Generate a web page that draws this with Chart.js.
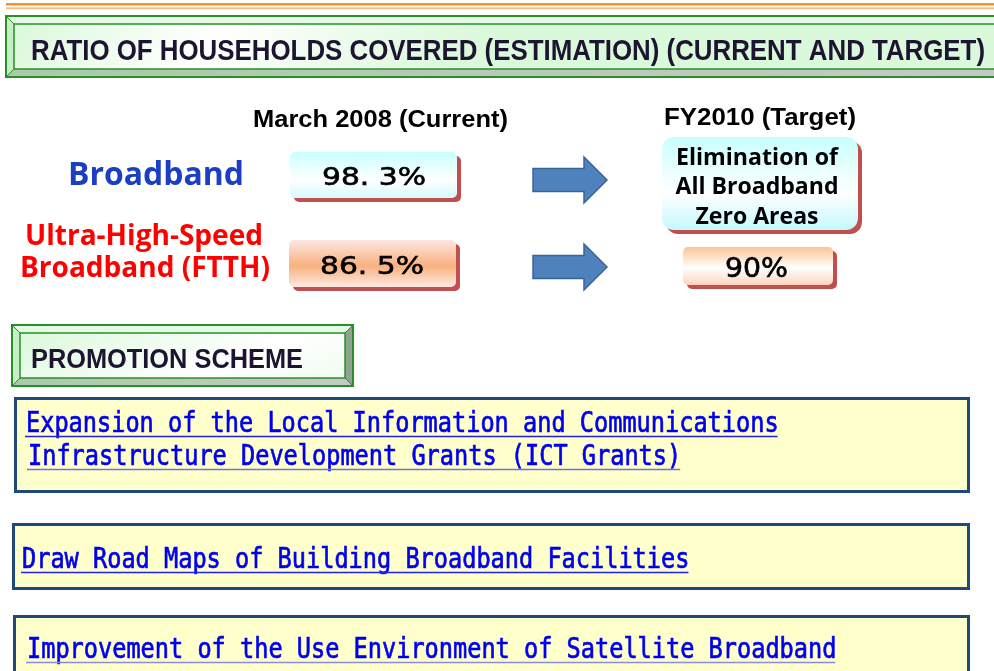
<!DOCTYPE html>
<html>
<head>
<meta charset="utf-8">
<script src="https://cdn.jsdelivr.net/npm/chart.js@4.4.0/dist/chart.umd.min.js"></script>
<style>
html, body { margin: 0; padding: 0; background: #fff; overflow: hidden; }
canvas { display: block; }
</style>
</head>
<body>
<canvas id="BroadbandChart" width="994" height="671"></canvas>
<script>
const title_text = 'RATIO OF HOUSEHOLDS COVERED (ESTIMATION) (CURRENT AND TARGET)';
const scheme_title = 'PROMOTION SCHEME';

const periods = ['March 2008 (Current)', 'FY2010 (Target)'];

const categories = [
    ['Broadband'],
    ['Ultra-High-Speed', 'Broadband (FTTH)']
];
const category_colors = ['#1a3fc4', '#ff0000'];

const current_values = [98.3, 86.5];
const target_values = [null, 90];
const target_notes = [
    ['Elimination of', 'All Broadband', 'Zero Areas'],
    null
];

const schemes = [
    ['Expansion of the Local Information and Communications',
     'Infrastructure Development Grants (ICT Grants)'],
    ['Draw Road Maps of Building Broadband Facilities'],
    ['Improvement of the Use Environment of Satellite Broadband']
];

// helpers
function fitText(ctx, txt, left, base, width, font, color, stroke) {
    ctx.save();
    ctx.font = font;
    const w = ctx.measureText(txt).width;
    ctx.translate(left, base);
    ctx.scale(width / w, 1);
    ctx.fillStyle = color;
    ctx.textAlign = 'left';
    ctx.textBaseline = 'alphabetic';
    ctx.fillText(txt, 0, 0);
    if (stroke) {
        ctx.strokeStyle = color;
        ctx.lineWidth = stroke;
        ctx.strokeText(txt, 0, 0);
    }
    ctx.restore();
}

function monoText(ctx, txt, left, base, color, lineColor) {
    const adv = 14.2;
    ctx.save();
    ctx.font = '28px "DejaVu Sans Mono"';
    const m = ctx.measureText('M').width;
    ctx.translate(left, base);
    ctx.scale(adv / m, 1);
    ctx.fillStyle = color;
    ctx.textBaseline = 'alphabetic';
    ctx.fillText(txt, 0, 0);
    ctx.strokeStyle = color;
    ctx.lineWidth = 0.7;
    ctx.strokeText(txt, 0, 0);
    ctx.restore();
    ctx.save();
    ctx.strokeStyle = lineColor;
    ctx.lineWidth = 1.5;
    ctx.beginPath();
    ctx.moveTo(left - 1, base + 4.5);
    ctx.lineTo(left + txt.length * adv - 1, base + 4.5);
    ctx.stroke();
    ctx.restore();
}

function roundPath(ctx, x, y, w, h, r) {
    ctx.beginPath();
    ctx.moveTo(x + r, y);
    ctx.arcTo(x + w, y, x + w, y + h, r);
    ctx.arcTo(x + w, y + h, x, y + h, r);
    ctx.arcTo(x, y + h, x, y, r);
    ctx.arcTo(x, y, x + w, y, r);
    ctx.closePath();
}

function valueBox(ctx, x, y, w, h, r, stops) {
    ctx.save();
    ctx.fillStyle = '#c0504d';
    roundPath(ctx, x + 4, y + 4, w, h, r);
    ctx.fill();
    const g = ctx.createLinearGradient(0, y, 0, y + h);
    stops.forEach(s => g.addColorStop(s[0], s[1]));
    ctx.fillStyle = g;
    roundPath(ctx, x, y, w, h, r);
    ctx.fill();
    ctx.restore();
}

function poly(ctx, pts, fill) {
    ctx.beginPath();
    ctx.moveTo(pts[0][0], pts[0][1]);
    pts.slice(1).forEach(p => ctx.lineTo(p[0], p[1]));
    ctx.closePath();
    ctx.fillStyle = fill;
    ctx.fill();
}

function bevelBox(ctx, x, y, w, h, b) {
    ctx.save();
    poly(ctx, [[x, y], [x + w, y], [x + w - b, y + b], [x + b, y + b]], '#e4fae4');
    poly(ctx, [[x, y], [x + b, y + b], [x + b, y + h - b], [x, y + h]], '#c6efc6');
    poly(ctx, [[x + w, y], [x + w, y + h], [x + w - b, y + h - b], [x + w - b, y + b]], '#8fa48f');
    const gb = ctx.createLinearGradient(x, 0, x + w, 0);
    gb.addColorStop(0, '#a9cba9');
    gb.addColorStop(1, '#c6c9c6');
    poly(ctx, [[x, y + h], [x + b, y + h - b], [x + w - b, y + h - b], [x + w, y + h]], gb);
    const g = ctx.createLinearGradient(x, y, x + w * 0.3, y + h * 4);
    g.addColorStop(0, '#d8f8d8');
    g.addColorStop(0.45, '#ffffff');
    g.addColorStop(1, '#daf8da');
    ctx.fillStyle = g;
    ctx.fillRect(x + b, y + b, w - 2 * b, h - 2 * b);
    ctx.strokeStyle = '#2a8f2a';
    ctx.lineWidth = 2;
    ctx.strokeRect(x, y, w, h);
    ctx.lineWidth = 1.5;
    ctx.strokeRect(x + b, y + b, w - 2 * b, h - 2 * b);
    ctx.lineWidth = 1;
    ctx.beginPath();
    ctx.moveTo(x, y); ctx.lineTo(x + b, y + b);
    ctx.moveTo(x + w, y); ctx.lineTo(x + w - b, y + b);
    ctx.moveTo(x, y + h); ctx.lineTo(x + b, y + h - b);
    ctx.moveTo(x + w, y + h); ctx.lineTo(x + w - b, y + h - b);
    ctx.stroke();
    ctx.restore();
}

function arrow(ctx, x, yc) {
    const pts = [[x, yc - 11.5], [x + 51, yc - 11.5], [x + 51, yc - 23], [x + 74, yc],
                 [x + 51, yc + 23], [x + 51, yc + 11.5], [x, yc + 11.5]];
    ctx.save();
    poly(ctx, pts, '#4f81bd');
    ctx.strokeStyle = '#3a6496';
    ctx.lineWidth = 1.5;
    ctx.stroke();
    ctx.restore();
}

function yellowBox(ctx, x, y, w, h) {
    ctx.save();
    ctx.fillStyle = '#ffffcc';
    ctx.fillRect(x, y, w, h);
    ctx.strokeStyle = '#1f497d';
    ctx.lineWidth = 3;
    ctx.strokeRect(x + 1.5, y + 1.5, w - 3, h - 3);
    ctx.restore();
}

function fmt(v) {
    return Number.isInteger(v) ? v + '%' : v.toFixed(1).replace('.', '. ') + '%';
}

const infographic = {
    id: 'infographic',
    beforeDraw(chart) {
        const ctx = chart.ctx;
        ctx.save();
        ctx.fillStyle = '#ffffff';
        ctx.fillRect(0, 0, chart.width, chart.height);
        ctx.restore();
    },
    afterDraw(chart) {
        const ctx = chart.ctx;
        const bold = s => 'bold ' + s + 'px "Liberation Sans"';
        const sans = s => 'bold ' + s + 'px "Open Sans"';
        const digits = s => s + 'px "DejaVu Sans"';

        // top orange rule
        ctx.fillStyle = '#f7941d';
        ctx.fillRect(6, 3, 988, 2.5);
        ctx.fillStyle = '#fbc27a';
        ctx.fillRect(6, 7.3, 988, 2);

        // title bar
        bevelBox(ctx, 6, 16, 1000, 61, 8);
        fitText(ctx, title_text, 31, 60, 954, bold(30), '#1c1430');

        // period headers
        fitText(ctx, periods[0], 253, 127, 255, bold(23), '#000000');
        fitText(ctx, periods[1], 664, 125, 192, bold(23), '#000000');

        // category labels
        fitText(ctx, categories[0][0], 68, 185, 176, sans(32), category_colors[0]);
        fitText(ctx, categories[1][0], 25, 245, 238, sans(28), category_colors[1]);
        fitText(ctx, categories[1][1], 20, 277, 250, sans(28), category_colors[1]);

        // current values
        valueBox(ctx, 290, 152, 167, 46, 5, [[0, '#c8ffff'], [0.6, '#ffffff'], [1, '#d4fbff']]);
        fitText(ctx, fmt(current_values[0]), 322, 185, 104, digits(24), '#000000', 0.6);
        valueBox(ctx, 289, 240, 167, 47, 5, [[0, '#fde6e4'], [0.55, '#f8b17e'], [1, '#fde9e2']]);
        fitText(ctx, fmt(current_values[1]), 320, 274, 104, digits(24), '#000000', 0.6);

        // arrows
        arrow(ctx, 533, 180);
        arrow(ctx, 533, 267);

        // targets
        valueBox(ctx, 662, 137, 196, 93, 12, [[0, '#c8ffff'], [0.6, '#ffffff'], [1, '#c4f8ff']]);
        const notes = target_notes[0];
        const noteBase = [165, 194, 224];
        const noteWidth = [162, 163, 123];
        notes.forEach((t, i) => {
            fitText(ctx, t, 757 - noteWidth[i] / 2, noteBase[i], noteWidth[i], sans(24), '#000000');
        });
        valueBox(ctx, 683, 247, 150, 38, 5, [[0, '#fbc494'], [0.55, '#ffffff'], [1, '#fcd4bc']]);
        fitText(ctx, fmt(target_values[1]), 725, 277, 63, digits(26), '#000000', 0.6);

        // promotion scheme
        bevelBox(ctx, 12, 325, 341, 61, 8);
        fitText(ctx, scheme_title, 31, 368, 272, bold(27), '#1c1430');

        yellowBox(ctx, 14, 397, 956, 96);
        monoText(ctx, schemes[0][0], 26, 432, '#0000f0', '#2020ee');
        monoText(ctx, schemes[0][1], 28, 465, '#0000f0', '#7070e0');

        yellowBox(ctx, 12, 523, 958, 67);
        monoText(ctx, schemes[1][0], 22, 568, '#0000f0', '#2020f8');

        yellowBox(ctx, 13, 615, 957, 80);
        monoText(ctx, schemes[2][0], 27, 658, '#0000f0', '#8a8ae0');
    }
};

const barData = {
    labels: categories.map(c => c.join(' ')),
    datasets: [{
        label: periods[0],
        data: current_values,
        backgroundColor: 'rgba(0,0,0,0)'
    }, {
        label: periods[1],
        data: target_values,
        backgroundColor: 'rgba(0,0,0,0)'
    }]
};

const configBar = {
    type: 'bar',
    data: barData,
    options: {
        indexAxis: 'y',
        responsive: false,
        animation: false,
        events: [],
        layout: { padding: 0 },
        scales: {
            x: { display: false, min: 0, max: 100 },
            y: { display: false }
        },
        plugins: {
            legend: { display: false },
            tooltip: { enabled: false }
        }
    },
    plugins: [infographic]
};

const BroadbandChart = new Chart(
    document.getElementById('BroadbandChart'),
    configBar
);
</script>
</body>
</html>
